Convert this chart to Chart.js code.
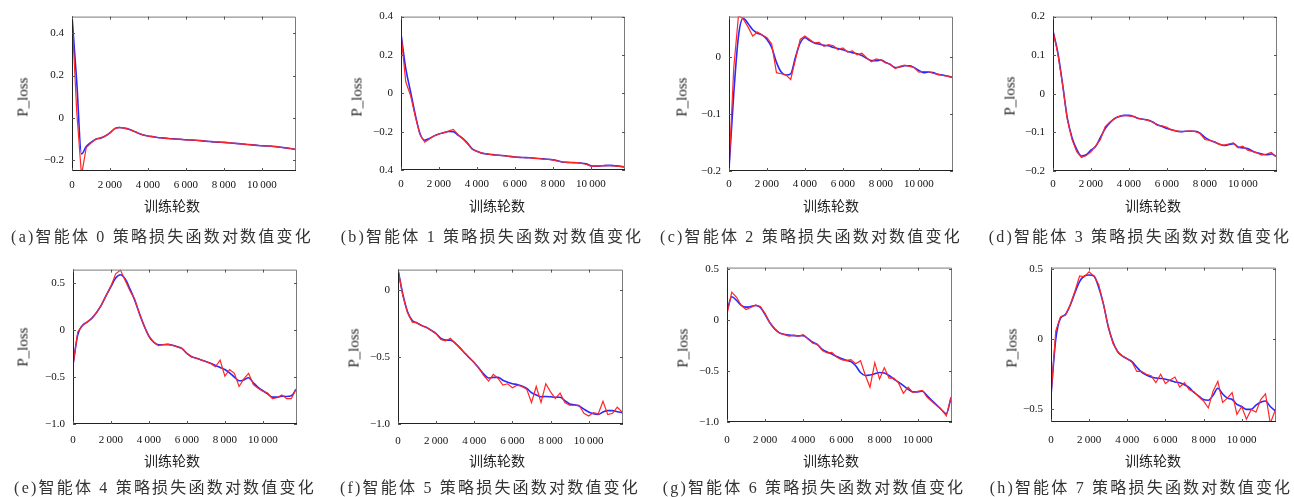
<!DOCTYPE html>
<html><head><meta charset="utf-8">
<script src="https://cdn.jsdelivr.net/npm/chart.js@4.4.1/dist/chart.umd.min.js"></script>
<style>
html,body{margin:0;padding:0;background:#fff;}
#wrap{position:relative;width:1294px;height:497px;overflow:hidden;background:#fff;}
canvas{position:absolute;}
.t{position:absolute;white-space:nowrap;transform:translate(-50%,-50%);color:#222;line-height:1;}
.cap{font-family:'Liberation Serif','Noto Sans CJK SC',serif;font-size:16px;letter-spacing:2.2px;color:#333;}
.xt{font-family:'Noto Sans CJK SC',sans-serif;font-size:14px;}
.yt{font-family:'Liberation Serif',serif;font-size:15px;transform:translate(-50%,-50%) rotate(-90deg);}
</style></head><body><div id="wrap"></div>
<script>
// training epochs (x categories)
const epochs = [0,250,500,750,1000,1250,1500,1750,2000,2250,2500,2750,3000,3250,3500,3750,4000,4250,4500,4750,5000,5250,5500,5750,6000,6250,6500,6750,7000,7250,7500,7750,8000,8250,8500,8750,9000,9250,9500,9750,10000,10250,10500,10750,11000,11250,11500,11750];
const xTicks = [0,2000,4000,6000,8000,10000];
const xLabels = ['0','2\u2009000','4\u2009000','6\u2009000','8\u2009000','10\u2009000'];

// agent 0
const redA  = [0.48,0.03,-0.27,-0.14,-0.118,-0.10,-0.094,-0.086,-0.07,-0.05,-0.044,-0.048,-0.053,-0.062,-0.072,-0.08,-0.085,-0.088,-0.092,-0.094,-0.096,-0.098,-0.099,-0.101,-0.103,-0.104,-0.105,-0.107,-0.109,-0.111,-0.113,-0.114,-0.115,-0.117,-0.119,-0.121,-0.123,-0.125,-0.127,-0.129,-0.131,-0.132,-0.133,-0.135,-0.138,-0.141,-0.144,-0.148];
const blueA = [0.48,0.17,-0.17,-0.135,-0.115,-0.10,-0.095,-0.085,-0.07,-0.05,-0.045,-0.048,-0.053,-0.062,-0.072,-0.08,-0.085,-0.088,-0.092,-0.094,-0.096,-0.098,-0.099,-0.101,-0.103,-0.104,-0.105,-0.107,-0.109,-0.111,-0.113,-0.114,-0.115,-0.117,-0.119,-0.121,-0.123,-0.125,-0.127,-0.129,-0.131,-0.132,-0.133,-0.135,-0.138,-0.141,-0.144,-0.148];
// agent 1
const redB  = [0.31,0.06,-0.01,-0.12,-0.215,-0.255,-0.238,-0.222,-0.212,-0.205,-0.197,-0.188,-0.215,-0.237,-0.262,-0.292,-0.303,-0.312,-0.316,-0.320,-0.322,-0.324,-0.327,-0.330,-0.332,-0.334,-0.336,-0.336,-0.339,-0.340,-0.343,-0.345,-0.347,-0.354,-0.358,-0.360,-0.362,-0.362,-0.365,-0.370,-0.380,-0.380,-0.378,-0.376,-0.377,-0.379,-0.381,-0.384];
const blueB = [0.31,0.13,0.01,-0.11,-0.21,-0.245,-0.235,-0.222,-0.212,-0.206,-0.199,-0.200,-0.218,-0.235,-0.26,-0.29,-0.302,-0.312,-0.316,-0.319,-0.322,-0.324,-0.326,-0.329,-0.332,-0.334,-0.335,-0.336,-0.338,-0.340,-0.342,-0.344,-0.347,-0.352,-0.358,-0.360,-0.361,-0.362,-0.364,-0.368,-0.378,-0.380,-0.379,-0.377,-0.376,-0.378,-0.380,-0.384];
// agent 2
const redC  = [-0.197,-0.02,0.072,0.066,0.052,0.036,0.043,0.038,0.033,0.022,-0.028,-0.030,-0.032,-0.040,-0.005,0.030,0.036,0.030,0.024,0.025,0.018,0.021,0.019,0.012,0.015,0.008,0.010,0.003,0.006,-0.002,-0.009,-0.004,-0.006,-0.011,-0.013,-0.021,-0.017,-0.015,-0.017,-0.019,-0.027,-0.026,-0.026,-0.029,-0.031,-0.033,-0.034,-0.036];
const blueC = [-0.197,-0.065,0.036,0.067,0.058,0.047,0.041,0.0375,0.030,0.016,-0.010,-0.027,-0.032,-0.030,-0.001,0.024,0.033,0.028,0.024,0.022,0.020,0.019,0.016,0.014,0.012,0.009,0.007,0.005,0.002,-0.003,-0.007,-0.007,-0.006,-0.010,-0.014,-0.019,-0.018,-0.016,-0.016,-0.019,-0.024,-0.028,-0.027,-0.028,-0.031,-0.032,-0.034,-0.036];
// agent 3
const redD  = [0.163,0.105,0.025,-0.065,-0.118,-0.150,-0.165,-0.160,-0.150,-0.135,-0.118,-0.085,-0.073,-0.064,-0.058,-0.056,-0.057,-0.059,-0.064,-0.066,-0.069,-0.073,-0.082,-0.083,-0.087,-0.094,-0.096,-0.098,-0.097,-0.096,-0.098,-0.103,-0.118,-0.121,-0.124,-0.131,-0.133,-0.130,-0.127,-0.140,-0.136,-0.146,-0.149,-0.153,-0.159,-0.156,-0.152,-0.163];
const blueD = [0.163,0.108,0.027,-0.062,-0.113,-0.144,-0.161,-0.158,-0.146,-0.136,-0.113,-0.090,-0.075,-0.064,-0.059,-0.056,-0.056,-0.059,-0.064,-0.066,-0.068,-0.073,-0.080,-0.085,-0.090,-0.093,-0.097,-0.098,-0.097,-0.097,-0.097,-0.102,-0.113,-0.120,-0.125,-0.130,-0.134,-0.132,-0.129,-0.138,-0.140,-0.142,-0.148,-0.153,-0.156,-0.158,-0.156,-0.162];
// agent 4
const redE  = [-0.37,-0.02,0.05,0.09,0.128,0.19,0.27,0.37,0.47,0.60,0.64,0.53,0.42,0.33,0.176,0.04,-0.065,-0.13,-0.165,-0.155,-0.152,-0.162,-0.18,-0.197,-0.25,-0.285,-0.30,-0.317,-0.334,-0.355,-0.39,-0.32,-0.49,-0.42,-0.46,-0.60,-0.52,-0.46,-0.58,-0.62,-0.65,-0.67,-0.73,-0.72,-0.69,-0.73,-0.73,-0.63];
const blueE = [-0.37,-0.05,0.05,0.086,0.128,0.19,0.27,0.37,0.465,0.555,0.59,0.545,0.44,0.32,0.176,0.045,-0.065,-0.128,-0.155,-0.155,-0.152,-0.162,-0.176,-0.197,-0.248,-0.283,-0.30,-0.317,-0.334,-0.352,-0.376,-0.397,-0.42,-0.455,-0.50,-0.54,-0.53,-0.507,-0.56,-0.61,-0.645,-0.68,-0.714,-0.714,-0.703,-0.707,-0.70,-0.63];
// agent 5
const redF  = [0.152,-0.04,-0.17,-0.24,-0.246,-0.266,-0.28,-0.302,-0.326,-0.37,-0.38,-0.36,-0.40,-0.432,-0.471,-0.507,-0.543,-0.585,-0.64,-0.68,-0.63,-0.66,-0.71,-0.70,-0.73,-0.71,-0.72,-0.74,-0.84,-0.72,-0.84,-0.70,-0.76,-0.81,-0.77,-0.84,-0.86,-0.86,-0.86,-0.92,-0.94,-0.915,-0.925,-0.83,-0.93,-0.92,-0.875,-0.91];
const blueF = [0.152,-0.03,-0.162,-0.227,-0.246,-0.266,-0.28,-0.302,-0.326,-0.362,-0.374,-0.374,-0.396,-0.432,-0.471,-0.507,-0.543,-0.585,-0.628,-0.657,-0.652,-0.652,-0.674,-0.688,-0.70,-0.705,-0.717,-0.734,-0.766,-0.783,-0.797,-0.795,-0.797,-0.80,-0.80,-0.826,-0.85,-0.857,-0.865,-0.889,-0.91,-0.923,-0.928,-0.91,-0.90,-0.90,-0.908,-0.915];
// agent 6
const redG  = [0.055,0.27,0.22,0.14,0.10,0.12,0.145,0.13,0.06,-0.03,-0.085,-0.13,-0.145,-0.16,-0.15,-0.16,-0.145,-0.19,-0.23,-0.24,-0.30,-0.325,-0.32,-0.365,-0.39,-0.40,-0.39,-0.43,-0.40,-0.54,-0.66,-0.42,-0.58,-0.47,-0.57,-0.57,-0.62,-0.72,-0.66,-0.71,-0.70,-0.69,-0.76,-0.80,-0.84,-0.88,-0.94,-0.76];
const blueG = [0.085,0.225,0.19,0.14,0.123,0.13,0.14,0.12,0.05,-0.03,-0.09,-0.128,-0.142,-0.15,-0.155,-0.158,-0.155,-0.185,-0.22,-0.245,-0.29,-0.315,-0.335,-0.36,-0.378,-0.395,-0.41,-0.45,-0.516,-0.545,-0.54,-0.528,-0.516,-0.52,-0.545,-0.58,-0.61,-0.645,-0.68,-0.705,-0.705,-0.70,-0.745,-0.79,-0.835,-0.88,-0.92,-0.76];
// agent 7
const redH  = [-0.40,0.06,0.16,0.17,0.24,0.34,0.45,0.445,0.48,0.45,0.39,0.25,0.09,-0.03,-0.09,-0.12,-0.14,-0.165,-0.23,-0.23,-0.25,-0.26,-0.31,-0.25,-0.316,-0.29,-0.27,-0.34,-0.31,-0.36,-0.374,-0.41,-0.44,-0.49,-0.37,-0.30,-0.45,-0.42,-0.38,-0.536,-0.48,-0.57,-0.50,-0.52,-0.43,-0.39,-0.60,-0.51];
const blueH = [-0.40,0.0,0.15,0.175,0.24,0.33,0.41,0.45,0.457,0.45,0.37,0.25,0.09,-0.02,-0.09,-0.12,-0.14,-0.16,-0.20,-0.235,-0.255,-0.27,-0.277,-0.28,-0.285,-0.295,-0.305,-0.31,-0.325,-0.345,-0.38,-0.405,-0.43,-0.435,-0.40,-0.35,-0.39,-0.42,-0.43,-0.465,-0.48,-0.50,-0.50,-0.47,-0.45,-0.44,-0.48,-0.51];

// y tick values and labels
const ticksA = [-0.2,0,0.2,0.4],      labelsA = ['\u22120.2','0','0.2','0.4'];
const ticksB = [-0.4,-0.2,0,0.2,0.4], labelsB = ['0.4','\u22120.2','0','0.2','0.4'];
const ticksC = [-0.2,-0.1,0],         labelsC = ['\u22120.2','\u22120.1','0'];
const ticksD = [-0.2,-0.1,0,0.1,0.2], labelsD = ['\u22120.2','\u22120.1','0','0.1','0.2'];
const ticksE = [-1,-0.5,0,0.5],       labelsE = ['\u22121.0','\u22120.5','0','0.5'];
const ticksF = [-1,-0.5,0],           labelsF = ['\u22121.0','\u22120.5','0'];
const ticksG = [-1,-0.5,0,0.5],       labelsG = ['\u22121.0','\u22120.5','0','0.5'];
const ticksH = [-0.5,0,0.5],          labelsH = ['\u22120.5','0','0.5'];

const yTitle = 'P_loss';
const xTitle = '训练轮数';
const captions = [
  '(a)智能体 0 策略损失函数对数值变化','(b)智能体 1 策略损失函数对数值变化',
  '(c)智能体 2 策略损失函数对数值变化','(d)智能体 3 策略损失函数对数值变化',
  '(e)智能体 4 策略损失函数对数值变化','(f)智能体 5 策略损失函数对数值变化',
  '(g)智能体 6 策略损失函数对数值变化','(h)智能体 7 策略损失函数对数值变化'
];

const panels = [
  {red:redA,blue:blueA,yMin:-0.25,yMax:0.478,ticks:ticksA,labels:labelsA,box:[72,12,296,171],xPad:8,yt:[23,97],xt:[172,205],cap:[162,237]},
  {red:redB,blue:blueB,yMin:-0.4,yMax:0.4,ticks:ticksB,labels:labelsB,box:[401,12,625,170],xPad:8,yt:[357,97],xt:[497,205],cap:[492,237]},
  {red:redC,blue:blueC,yMin:-0.2,yMax:0.07,ticks:ticksC,labels:labelsC,box:[729,12,953,171],xPad:7,yt:[682,97],xt:[831,205],cap:[811,237]},
  {red:redD,blue:blueD,yMin:-0.2,yMax:0.2,ticks:ticksD,labels:labelsD,box:[1053,12,1277,171],xPad:7,yt:[1010,96],xt:[1153,205],cap:[1140,237]},
  {red:redE,blue:blueE,yMin:-1.0,yMax:0.645,ticks:ticksE,labels:labelsE,box:[73,265,297,424],xPad:10,yt:[23,347],xt:[172,460],cap:[165,488]},
  {red:redF,blue:blueF,yMin:-1.0,yMax:0.152,ticks:ticksF,labels:labelsF,box:[398,265,623,424],xPad:11,yt:[354,348],xt:[497,460],cap:[490,488]},
  {red:redG,blue:blueG,yMin:-1.0,yMax:0.51,ticks:ticksG,labels:labelsG,box:[727,263,952,422],xPad:12,yt:[683,348],xt:[831,460],cap:[814,488]},
  {red:redH,blue:blueH,yMin:-0.59,yMax:0.51,ticks:ticksH,labels:labelsH,box:[1051,263,1276,422],xPad:12,yt:[1012,348],xt:[1153,460],cap:[1141,488]}
];

const boxPlugin = {
  id:'boxTicks',
  afterDatasetsDraw(chart){
    const {ctx, chartArea:a, scales:{x, y}} = chart;
    ctx.save();
    ctx.lineWidth = 1;
    ctx.strokeStyle = '#7a7a7a';
    ctx.beginPath();
    ctx.moveTo(a.left, a.top+0.5); ctx.lineTo(a.right-0.5, a.top+0.5); ctx.lineTo(a.right-0.5, a.bottom);
    ctx.stroke();
    ctx.strokeStyle = '#222';
    ctx.beginPath();
    ctx.moveTo(a.left+0.5, a.top); ctx.lineTo(a.left+0.5, a.bottom-0.5); ctx.lineTo(a.right, a.bottom-0.5);
    ctx.stroke();
    ctx.strokeStyle = '#555';
    ctx.beginPath();
    x.ticks.forEach(t=>{
      const px = Math.round(x.getPixelForValue(t.value))+0.5;
      ctx.moveTo(px, a.bottom); ctx.lineTo(px, a.bottom-3);
      ctx.moveTo(px, a.top); ctx.lineTo(px, a.top+3);
    });
    y.ticks.forEach(t=>{
      const py = Math.round(y.getPixelForValue(t.value))+0.5;
      ctx.moveTo(a.left, py); ctx.lineTo(a.left+3, py);
      ctx.moveTo(a.right, py); ctx.lineTo(a.right-3, py);
    });
    ctx.stroke();
    ctx.restore();
  }
};

const wrap = document.getElementById('wrap');
function addText(cls, txt, x, y){
  const d = document.createElement('div');
  d.className = 't ' + cls; d.textContent = txt;
  d.style.left = x + 'px'; d.style.top = y + 'px';
  wrap.appendChild(d);
}

const padL = 60, padT = 10, padR = 10, padB = 32;
const tickFont = {family:'Liberation Serif', size:11};
panels.forEach((p, k)=>{
  const [L,T,R,B] = p.box;
  const w = R-L+padL+padR, h = B-T+padT+padB;
  const c = document.createElement('canvas');
  c.width = w; c.height = h;
  c.style.width = w+'px'; c.style.height = h+'px';
  c.style.left = (L-padL)+'px'; c.style.top = (T-padT)+'px';
  wrap.appendChild(c);
  new Chart(c, {
    type:'line',
    data:{datasets:[
      {data:epochs.map((x,i)=>({x:x, y:p.red[i]})), borderColor:'#ff2626', borderWidth:1.2, pointRadius:0, tension:0},
      {data:epochs.map((x,i)=>({x:x, y:p.blue[i]})), borderColor:'#2828ff', borderWidth:1.6, pointRadius:0, cubicInterpolationMode:'monotone'}
    ]},
    options:{
      responsive:false, animation:false, events:[],
      layout:{padding:{left:0, top:padT, right:padR, bottom:0}},
      plugins:{legend:{display:false}, tooltip:{enabled:false}},
      scales:{
        x:{type:'linear', min:0, max:11800,
           grid:{display:false, drawTicks:false}, border:{display:false},
           afterBuildTicks:s=>{ s.ticks = xTicks.map(v=>({value:v})); },
           afterFit:s=>{ s.height = padB; },
           ticks:{autoSkip:false, maxRotation:0, minRotation:0, padding:p.xPad, color:'#111', font:tickFont,
                  callback:(v,i)=>xLabels[i]}},
        y:{type:'linear', min:p.yMin, max:p.yMax,
           grid:{display:false, drawTicks:false}, border:{display:false},
           afterBuildTicks:s=>{ s.ticks = p.ticks.map(v=>({value:v})); },
           afterFit:s=>{ s.width = padL; },
           ticks:{autoSkip:false, padding:8, color:'#111', font:tickFont,
                  callback:(v,i)=>p.labels[i]}}
      }
    },
    plugins:[boxPlugin]
  });
  addText('yt', yTitle, p.yt[0], p.yt[1]);
  addText('xt', xTitle, p.xt[0], p.xt[1]);
  addText('cap', captions[k], p.cap[0], p.cap[1]);
});
</script></body></html>
